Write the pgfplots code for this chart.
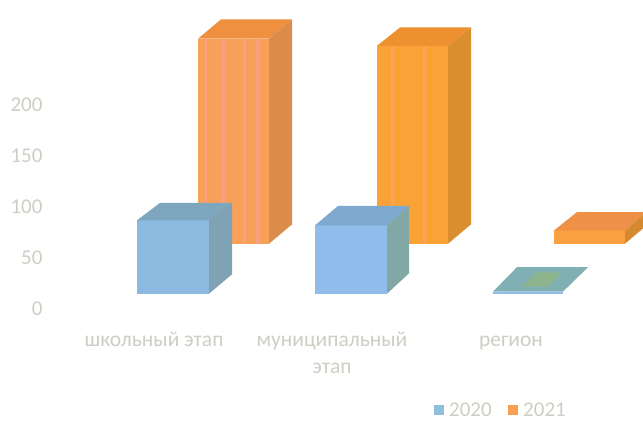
\documentclass[border=0pt]{standalone}
\usepackage{pgfplots}
\pgfplotsset{compat=1.18}
\usepackage{fontspec}
\setmainfont{Carlito}
\definecolor{txt}{HTML}{CDCEC4}
\definecolor{bfa}{HTML}{8BB9E0}\definecolor{bta}{HTML}{7EA6BE}\definecolor{bsa}{HTML}{7FA3B4}
\definecolor{bfb}{HTML}{8FBCEA}\definecolor{btb}{HTML}{7DA9D0}\definecolor{bsb}{HTML}{82A8A6}
\definecolor{btc}{HTML}{80B0B4}\definecolor{gnc}{HTML}{8DB48C}
\definecolor{ofa}{HTML}{F8A05A}\definecolor{ota}{HTML}{EE9040}\definecolor{osa}{HTML}{DB8C48}
\definecolor{pka}{HTML}{F8A080}
\definecolor{ofb}{HTML}{FBA236}\definecolor{otb}{HTML}{EE9030}\definecolor{osb}{HTML}{DA8F2E}
\definecolor{pkb}{HTML}{F7A468}
\definecolor{ofc}{HTML}{F9A040}\definecolor{otc}{HTML}{EE9048}\definecolor{osc}{HTML}{D58A30}
\definecolor{legb}{HTML}{8FBFDC}\definecolor{lego}{HTML}{F8A050}
\pgfplotsset{face/.style={forget plot,draw=none,fill=#1,line width=0pt}}
\begin{document}
\begin{tikzpicture}[x=1pt,y=1pt]
\path[use as bounding box,fill=white] (0,0) rectangle (643,423);
\begin{axis}[
  at={(48pt,98pt)},anchor=south west,scale only axis,
  width=595pt,height=325pt,
  xmin=48,xmax=643,ymin=-15.686,ymax=302.94,
  axis line style={draw=none},major tick style={draw=none},
  xtick={154,332,511},
  xticklabels={школьный этап,муниципальный\\этап,\vphantom{й}регион},
  ytick={0,50,100,150,200},
  /pgf/number format/assume math mode=true,
  yticklabel style={font=\fontsize{21}{26}\selectfont,text=txt,xshift=-2pt},
  xticklabel style={font=\fontsize{21.5}{27}\selectfont,text=txt,align=center,yshift=-3pt},
  legend style={at={(1,0)},anchor=north east,draw=none,fill=none,
    font=\fontsize{21}{22}\selectfont,text=txt,xshift=-72pt,yshift=-75pt,legend columns=2,
    nodes={text depth=0pt,inner ysep=1pt},
    /tikz/every even column/.append style={column sep=14pt}},
  legend image code/.code={\fill[#1] (0pt,-5pt) rectangle (10pt,5pt);},
]
% school stage: 2021 (value 201, from 64), 2020 (value 72, from 15)
\addplot[face=ofa] coordinates {(198,64)(269,64)(269,265)(198,265)} --cycle;
\addplot[face=pka] coordinates {(205,64)(207,64)(207,265)(205,265)} --cycle;
\addplot[face=pka] coordinates {(222,64)(225,64)(225,265)(222,265)} --cycle;
\addplot[face=pka] coordinates {(243,64)(246,64)(246,265)(243,265)} --cycle;
\addplot[face=pka] coordinates {(256,64)(260,64)(260,265)(256,265)} --cycle;
\addplot[face=ota] coordinates {(198,265)(221,284)(292,284)(269,265)} --cycle;
\addplot[face=osa] coordinates {(269,64)(292,83)(292,284)(269,265)} --cycle;
\addplot[face=bfa] coordinates {(137,15)(209,15)(209,87)(137,87)} --cycle;
\addplot[face=bta] coordinates {(137,87)(160,104)(232,104)(209,87)} --cycle;
\addplot[face=bsa] coordinates {(209,15)(232,34)(232,104)(209,87)} --cycle;
% municipal stage: 2021 (194), 2020 (67)
\addplot[face=ofb] coordinates {(377,64)(448,64)(448,258)(377,258)} --cycle;
\addplot[face=pkb] coordinates {(391,64)(394,64)(394,258)(391,258)} --cycle;
\addplot[face=pkb] coordinates {(423,64)(426,64)(426,258)(423,258)} --cycle;
\addplot[face=otb] coordinates {(377,258)(400,276)(471,276)(448,258)} --cycle;
\addplot[face=osb] coordinates {(448,64)(471,83)(471,276)(448,258)} --cycle;
\addplot[face=bfb] coordinates {(315,15)(387,15)(387,82)(315,82)} --cycle;
\addplot[face=btb] coordinates {(315,82)(338,101)(409,101)(387,82)} --cycle;
\addplot[face=bsb] coordinates {(387,15)(409,35)(409,101)(387,82)} --cycle;
% region: 2020 (2), 2021 (13)
\addplot[face=bfb] coordinates {(493,15)(563,15)(563,17)(493,17)} --cycle;
\addplot[face=btc] coordinates {(493,17)(517,41)(588,41)(563,17)} --cycle;
\addplot[face=gnc] coordinates {(522,22)(536,36)(562,36)(548,22)} --cycle;
\addplot[face=ofc] coordinates {(554,64)(625,64)(625,77)(554,77)} --cycle;
\addplot[face=otc] coordinates {(554,77)(577,95)(643,95)(643,92)(625,77)} --cycle;
\addplot[face=osc] coordinates {(625,64)(643,79)(643,92)(625,77)} --cycle;
\addlegendimage{fill=legb,draw=none}\addlegendentry{\,2020}
\addlegendimage{fill=lego,draw=none}\addlegendentry{\,2021}
\end{axis}
\end{tikzpicture}
\end{document}
